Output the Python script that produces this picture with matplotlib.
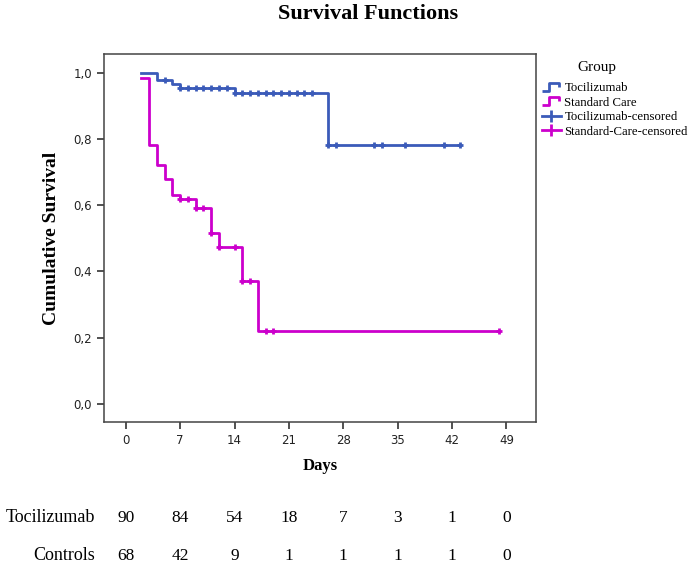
import numpy as np
import matplotlib
matplotlib.use('Agg')
import matplotlib.pyplot as plt
from matplotlib.lines import Line2D
from matplotlib.path import Path
import matplotlib.transforms as mtransforms

# Kaplan-Meier step data
toc_time = [2, 4, 6, 7, 14, 26, 43]
toc_surv = [1.0, 0.979, 0.966, 0.954, 0.939, 0.780, 0.780]
toc_cens = [5, 7, 8, 9, 10, 11, 12, 13, 14, 15, 16, 17, 18, 19, 20, 21, 22, 23, 24,
            26, 27, 32, 33, 36, 41, 43]

std_time = [2, 3, 4, 5, 6, 7, 9, 11, 12, 15, 17, 48]
std_surv = [0.985, 0.780, 0.721, 0.679, 0.631, 0.618, 0.591, 0.516, 0.473, 0.370, 0.220, 0.220]
std_cens = [7, 8, 9, 10, 11, 12, 14, 15, 16, 18, 19, 48]

# numbers at risk
risk_days = [0, 7, 14, 21, 28, 35, 42, 49]
risk_toc = [90, 84, 54, 18, 7, 3, 1, 0]
risk_ctl = [68, 42, 9, 1, 1, 1, 1, 0]

blue = '#3b5bb9'
magenta = '#cc00cc'
serif = 'Liberation Serif'


def step_value(times, surv, t):
    i = np.searchsorted(times, t, side='right') - 1
    return surv[max(i, 0)]


fig = plt.figure(figsize=(6.9, 5.64), dpi=100)
ax = fig.add_axes([104 / 690, 1 - 422 / 564, 432 / 690, 368 / 564])

ax.step(toc_time, toc_surv, where='post', color=blue, lw=2)
ax.step(std_time, std_surv, where='post', color=magenta, lw=2)
ax.plot(toc_cens, [step_value(toc_time, toc_surv, t) for t in toc_cens],
        ls='None', marker='+', ms=5, mew=2, color=blue)
ax.plot(std_cens, [step_value(std_time, std_surv, t) for t in std_cens],
        ls='None', marker='+', ms=5, mew=2, color=magenta)

ax.set_xlim(-2.8, 52.8)
ax.set_ylim(-0.055, 1.056)
ax.set_xticks(risk_days)
yt = [0.0, 0.2, 0.4, 0.6, 0.8, 1.0]
ax.set_yticks(yt)
ax.set_yticklabels([f'{v:.1f}'.replace('.', ',') for v in yt])
ax.tick_params(direction='out', length=5, width=1.2, labelsize=8.5, colors='#333333',
               labelcolor='#222222')
for s in ax.spines.values():
    s.set_color('#444444')
    s.set_linewidth(1.1)

ax.set_xlabel('Days', fontfamily=serif, fontweight='bold', fontsize=12, labelpad=8)
ax.set_ylabel('Cumulative Survival', fontfamily=serif, fontweight='bold', fontsize=14,
              labelpad=10)
fig.text(0.533, 1 - 14 / 564, 'Survival Functions', ha='center', va='center',
         fontfamily=serif, fontweight='bold', fontsize=16)

# legend with step-shaped handles
step_marker = Path([(-1.0, -0.4), (-0.2, -0.4), (-0.2, 0.4), (0.9, 0.4), (0.9, 0.0)],
                   [Path.MOVETO, Path.LINETO, Path.LINETO, Path.LINETO, Path.LINETO])
handles = [
    Line2D([], [], ls='None', marker=step_marker, ms=13, mew=2, mfc='none', mec=blue),
    Line2D([], [], ls='None', marker=step_marker, ms=13, mew=2, mfc='none', mec=magenta),
    Line2D([], [], color=blue, lw=2, marker='|', ms=8, mew=2),
    Line2D([], [], color=magenta, lw=2, marker='|', ms=8, mew=2),
]
labels = ['Tocilizumab', 'Standard Care', 'Tocilizumab-censored', 'Standard-Care-censored']
fig.text(597 / 690, 1 - 68 / 564, 'Group', ha='center', va='center',
         fontfamily=serif, fontsize=11)
leg = fig.legend(handles, labels, loc='upper left',
                 bbox_to_anchor=(542 / 690, 1 - 82 / 564), frameon=False,
                 prop={'family': serif, 'size': 9.2}, handlelength=1.45,
                 handletextpad=0.3, labelspacing=0.2, borderaxespad=0.0,
                 borderpad=0.0)

# numbers at risk table
trans = mtransforms.blended_transform_factory(ax.transData, fig.transFigure)
for y, name, vals in [(1 - 518 / 564, 'Tocilizumab', risk_toc),
                      (1 - 556 / 564, 'Controls', risk_ctl)]:
    fig.text(95 / 690, y, name, ha='right', va='center', fontfamily=serif, fontsize=13)
    for d, v in zip(risk_days, vals):
        ax.text(d, y, str(v), transform=trans, ha='center', va='center',
                fontfamily=serif, fontsize=12.5, clip_on=False)

fig.savefig('out.png', dpi=100)
